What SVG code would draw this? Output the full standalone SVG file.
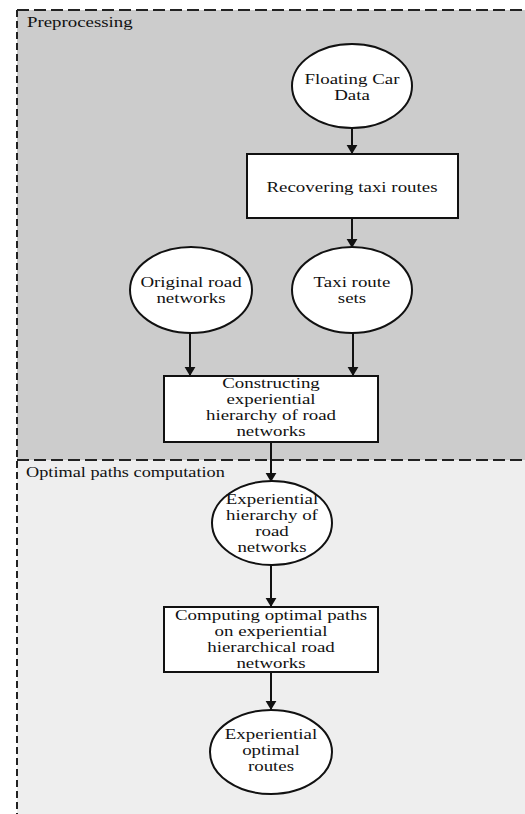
<svg xmlns="http://www.w3.org/2000/svg" width="525" height="814" viewBox="0 0 525 814">
<defs>
<style>
.n{font-family:"Liberation Serif","Times New Roman",serif;font-size:14px;fill:#111;text-anchor:middle}
.lbl{font-family:"Liberation Serif","Times New Roman",serif;font-size:14.5px;fill:#111}
.shape{fill:#fff;stroke:#111;stroke-width:2}
.edge{stroke:#111;stroke-width:2;fill:none}
.hd{stroke:#222;stroke-width:2;stroke-dasharray:12 5;fill:none}
.vd{stroke:#222;stroke-width:2;stroke-dasharray:7 4;fill:none}
</style>
<marker id="ah" viewBox="0 0 10 12" refX="10" refY="6" markerWidth="9" markerHeight="12" markerUnits="userSpaceOnUse" orient="auto">
<path d="M0,0 L10,6 L0,12 z" fill="#111"/>
</marker>
</defs>
<rect width="525" height="814" fill="#fff"/>
<g id="regions">
<rect x="17" y="10" width="508" height="450" fill="#cccccc"/>
<rect x="17" y="460" width="508" height="354" fill="#eeeeee"/>
<line class="hd" x1="17" y1="10" x2="525" y2="10"/>
<line class="hd" x1="17" y1="460" x2="525" y2="460"/>
<line class="vd" x1="17" y1="10" x2="17" y2="814"/>
<text class="lbl" transform="matrix(1.3 0 0 1 27 27)">Preprocessing</text>
<text class="lbl" transform="matrix(1.26 0 0 1 26 477)">Optimal paths computation</text>
</g>
<g id="connectors">
<line class="edge" x1="352" y1="128" x2="352" y2="154" marker-end="url(#ah)"/>
<line class="edge" x1="352" y1="218" x2="352" y2="248" marker-end="url(#ah)"/>
<line class="edge" x1="190" y1="333" x2="190" y2="376" marker-end="url(#ah)"/>
<line class="edge" x1="353" y1="333" x2="353" y2="376" marker-end="url(#ah)"/>
<line class="edge" x1="271" y1="442" x2="271" y2="482" marker-end="url(#ah)"/>
<line class="edge" x1="271" y1="565" x2="271" y2="607" marker-end="url(#ah)"/>
<line class="edge" x1="271" y1="672" x2="271" y2="710" marker-end="url(#ah)"/>
</g>
<g id="floating">
<ellipse class="shape" cx="352" cy="86" rx="60" ry="42"/>
<text class="n" transform="matrix(1.35 0 0 1 352 0)"><tspan x="0" y="84">Floating Car</tspan><tspan x="0" y="100">Data</tspan></text>
</g>
<g id="recovering">
<rect class="shape" x="247" y="154" width="211" height="64"/>
<text class="n" transform="matrix(1.35 0 0 1 352 0)"><tspan x="0" y="192">Recovering taxi routes</tspan></text>
</g>
<g id="original">
<ellipse class="shape" cx="191" cy="290" rx="61" ry="43"/>
<text class="n" transform="matrix(1.35 0 0 1 191 0)"><tspan x="0" y="287">Original road</tspan><tspan x="0" y="303">networks</tspan></text>
</g>
<g id="taxisets">
<ellipse class="shape" cx="352" cy="290" rx="60" ry="43"/>
<text class="n" transform="matrix(1.35 0 0 1 352 0)"><tspan x="0" y="287">Taxi route</tspan><tspan x="0" y="303">sets</tspan></text>
</g>
<g id="constructing">
<rect class="shape" x="164" y="376" width="214" height="66"/>
<text class="n" transform="matrix(1.35 0 0 1 271 0)"><tspan x="0" y="388">Constructing</tspan><tspan x="0" y="404">experiential</tspan><tspan x="0" y="420">hierarchy of road</tspan><tspan x="0" y="436">networks</tspan></text>
</g>
<g id="hierarchy">
<ellipse class="shape" cx="272" cy="523" rx="60" ry="42"/>
<text class="n" transform="matrix(1.35 0 0 1 272 0)"><tspan x="0" y="504">Experiential</tspan><tspan x="0" y="520">hierarchy of</tspan><tspan x="0" y="536">road</tspan><tspan x="0" y="552">networks</tspan></text>
</g>
<g id="computing">
<rect class="shape" x="164" y="607" width="214" height="65"/>
<text class="n" transform="matrix(1.35 0 0 1 271 0)"><tspan x="0" y="620">Computing optimal paths</tspan><tspan x="0" y="636">on experiential</tspan><tspan x="0" y="652">hierarchical road</tspan><tspan x="0" y="668">networks</tspan></text>
</g>
<g id="routes">
<ellipse class="shape" cx="271" cy="752" rx="61" ry="42"/>
<text class="n" transform="matrix(1.35 0 0 1 271 0)"><tspan x="0" y="739">Experiential</tspan><tspan x="0" y="755">optimal</tspan><tspan x="0" y="771">routes</tspan></text>
</g>
</svg>
